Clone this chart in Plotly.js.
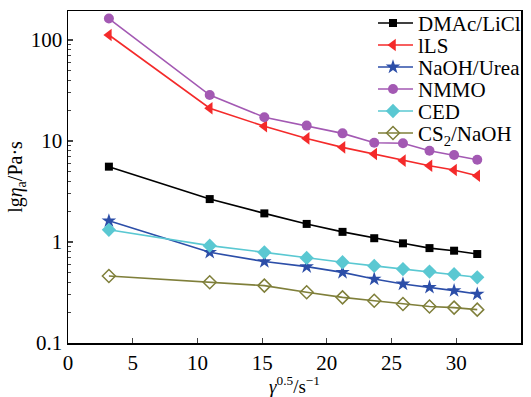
<!DOCTYPE html>
<html>
<head>
<meta charset="utf-8">
<script src="https://cdn.plot.ly/plotly-3.0.1.min.js"></script>
<style>html,body{margin:0;padding:0;background:#fff;}#chart{width:531px;height:397px;}</style>
</head>
<body>
<div id="chart"></div>
<script>
const shearSqrt = [3.16, 10.95, 15.17, 18.44, 21.21, 23.66, 25.88, 27.93, 29.83, 31.62];
const seriesNames = ["DMAc/LiCl", "lLS", "NaOH/Urea", "NMMO", "CED", "CS<sub>2</sub>/NaOH"];
const dmacLicl = [5.57, 2.66, 1.92, 1.51, 1.26, 1.09, 0.97, 0.87, 0.82, 0.76];
const ils = [112, 21.1, 14.0, 10.6, 8.65, 7.43, 6.38, 5.69, 5.16, 4.53];
const naohUrea = [1.62, 0.79, 0.64, 0.57, 0.50, 0.43, 0.384, 0.356, 0.33, 0.305];
const nmmo = [163, 28.5, 17.2, 14.2, 11.9, 9.6, 9.5, 8.0, 7.27, 6.53];
const ced = [1.32, 0.92, 0.79, 0.695, 0.63, 0.58, 0.54, 0.51, 0.48, 0.447];
const cs2Naoh = [0.46, 0.40, 0.37, 0.318, 0.283, 0.262, 0.243, 0.23, 0.224, 0.214];
const yTickVals = [0.1, 1, 10, 100];
const yTickText = ["0.1", "1", "10", "100"];
const xTickVals = [0, 5, 10, 15, 20, 25, 30, 35];

const styles = [
  {color: "#000000", symbol: "square", size: 8},
  {color: "#f42a2a", symbol: "triangle-left", size: 11},
  {color: "#2c4ea8", symbol: "star", size: 11},
  {color: "#a359b3", symbol: "circle", size: 10},
  {color: "#5ac8d2", symbol: "diamond", size: 11},
  {color: "#7f7f3a", symbol: "diamond-open", size: 10}
];
const values = [dmacLicl, ils, naohUrea, nmmo, ced, cs2Naoh];

const traces = values.map((v, i) => ({
  x: shearSqrt,
  y: v,
  name: seriesNames[i],
  type: "scatter",
  mode: "lines+markers",
  line: {color: styles[i].color, width: 1.6},
  marker: {color: styles[i].color, symbol: styles[i].symbol, size: styles[i].size,
           line: {color: styles[i].color, width: styles[i].symbol.endsWith("open") ? 1.5 : 0}}
}));

const font = {family: "Liberation Serif, Times New Roman, serif", size: 21, color: "#000"};

const layout = {
  width: 531, height: 397,
  margin: {l: 68, r: 8, t: 11, b: 54},
  paper_bgcolor: "#fff", plot_bgcolor: "#fff",
  font: font,
  showlegend: true,
  legend: {x: 0.677, y: 1.0, xanchor: "left", yanchor: "top", bgcolor: "rgba(0,0,0,0)",
           font: {family: font.family, size: 21, color: "#000"}, tracegroupgap: 0, itemwidth: 30},
  xaxis: {
    range: [0, 35], tickvals: xTickVals, ticks: "inside", ticklen: 5, tickwidth: 1.2,
    showline: true, linecolor: "#000", linewidth: 1.5, mirror: true, showgrid: false, zeroline: false,
    tickfont: font, automargin: false,
    title: {text: "<i>γ</i><sup>0.5</sup>/s<sup>−1</sup>", font: {family: font.family, size: 19, color: "#000"}, standoff: 2}
  },
  yaxis: {
    type: "log", range: [-1, 2.287], tickvals: yTickVals, ticktext: yTickText,
    ticks: "inside", ticklen: 5, tickwidth: 1.2,
    minor: {ticks: "inside", ticklen: 3, tickwidth: 1, dtick: "D1", showgrid: false},
    showline: true, linecolor: "#000", linewidth: 1.5, mirror: true, showgrid: false, zeroline: false,
    tickfont: font, automargin: false,
    title: {text: "lg<i>η</i><sub>a</sub>/Pa·s", font: {family: font.family, size: 20, color: "#000"}, standoff: 3}
  }
};

Plotly.newPlot("chart", traces, layout, {staticPlot: true, displayModeBar: false}).then(() => {
  // tighten legend rows, lengthen the legend line samples, place the legend block
  const items = document.querySelectorAll("#chart .legend .traces");
  const gap = 22;
  let y0 = null;
  items.forEach((g, i) => {
    const m = /translate\(([-\d.]+),\s*([-\d.]+)\)/.exec(g.getAttribute("transform") || "");
    if (!m) return;
    const x = parseFloat(m[1]);
    if (y0 === null) y0 = parseFloat(m[2]);
    g.setAttribute("transform", "translate(" + x + "," + (y0 + i * gap) + ")");
    g.querySelectorAll(".legendlines path").forEach(p => p.setAttribute("d", "M-5,0h40"));
    g.querySelectorAll(".legendpoints path.scatterpts").forEach(p => {
      p.setAttribute("transform", "translate(15,0)");
    });
  });
  const bg = document.querySelector("#chart .legend .bg");
  if (bg) bg.setAttribute("height", String(items.length * gap + 10));
  const leg = document.querySelector("#chart .legend");
  const firstLine = document.querySelector("#chart .legend .traces .legendlines path");
  if (leg && firstLine) {
    const r = firstLine.getBoundingClientRect();
    const dx = 373 - r.left, dy = 23 - (r.top + r.height / 2);
    const m = /translate\(([-\d.]+),\s*([-\d.]+)\)/.exec(leg.getAttribute("transform") || "");
    if (m) leg.setAttribute("transform", "translate(" + (parseFloat(m[1]) + dx) + "," + (parseFloat(m[2]) + dy) + ")");
  }
});
</script>
</body>
</html>
